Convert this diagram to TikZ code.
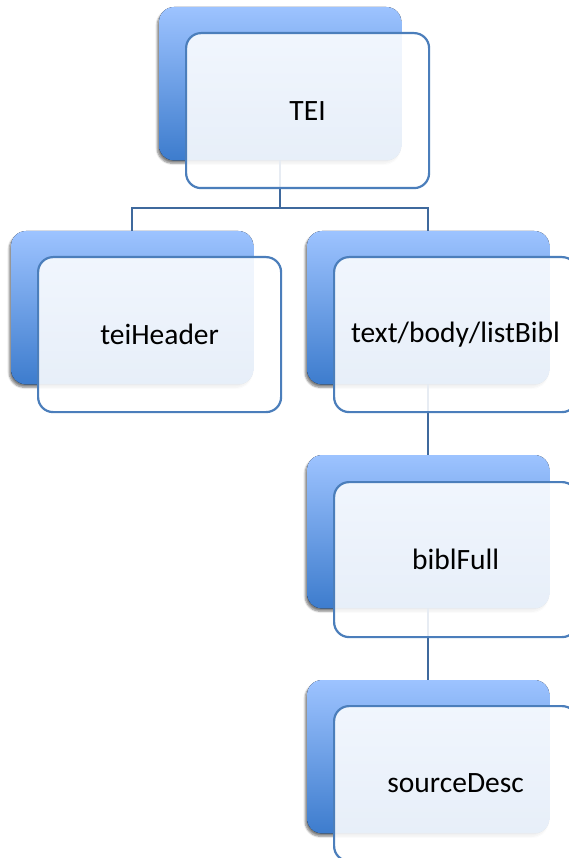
\documentclass[tikz,border=0pt]{standalone}
\usepackage{fontspec}
\setmainfont{Carlito}
\usetikzlibrary{shadows.blur}
\definecolor{backtop}{HTML}{9DC3FF}
\definecolor{backbot}{HTML}{3D7CCD}
\definecolor{frontline}{HTML}{4B7EBB}
\definecolor{conn}{HTML}{3F699D}
\tikzset{
  backbox/.style={anchor=north west, minimum width=242pt, minimum height=153pt,
    rounded corners=15pt, top color=backtop, bottom color=backbot, inner sep=0pt,
    blur shadow={shadow xshift=-2pt, shadow yshift=-3pt, shadow blur steps=6, shadow opacity=50}},
  frontbox/.style={anchor=north west, minimum width=243pt, minimum height=155pt,
    rounded corners=15pt, draw=frontline, line width=2.2pt,
    fill=white, fill opacity=0.88, text opacity=1, inner sep=0pt,
    font=\fontsize{29.5}{34}\selectfont, text=black},
  connector/.style={draw=conn, line width=2.2pt}
}
\begin{document}
\begin{tikzpicture}[x=1pt,y=-1pt]
\useasboundingbox (0,0) rectangle (569,858);
\clip (0,0) rectangle (569,858);
% back boxes
\node[backbox] (tei) at (159,7) {};
\node[backbox] (hdr) at (11,231) {};
\node[backbox] (lb) at (307,231) {};
\node[backbox] (bf) at (307,455) {};
\node[backbox] (sd) at (307,680) {};
% connectors
\draw[connector] (tei.south) -- ++(0,48) coordinate (split) -| (hdr.north);
\draw[connector] (split) -| (lb.north);
\draw[connector] (lb.south) -- (bf.north);
\draw[connector] (bf.south) -- (sd.north);
% redraw back boxes over connectors (without shadow)
\foreach \n in {tei,hdr,lb,bf,sd}{
  \fill[top color=backtop, bottom color=backbot, rounded corners=15pt]
    (\n.north west) rectangle (\n.south east);
}
% front boxes
\node[frontbox] (teif) at (185,32) {TEI};
\node[frontbox] (hdrf) at (37,256) {teiHeader};
\node[frontbox] (lbf) at (333,256) {text/body/listBibl};
\node[frontbox] (bff) at (333,481) {biblFull};
\node[frontbox] (sdf) at (333,705) {sourceDesc};
\end{tikzpicture}
\end{document}
